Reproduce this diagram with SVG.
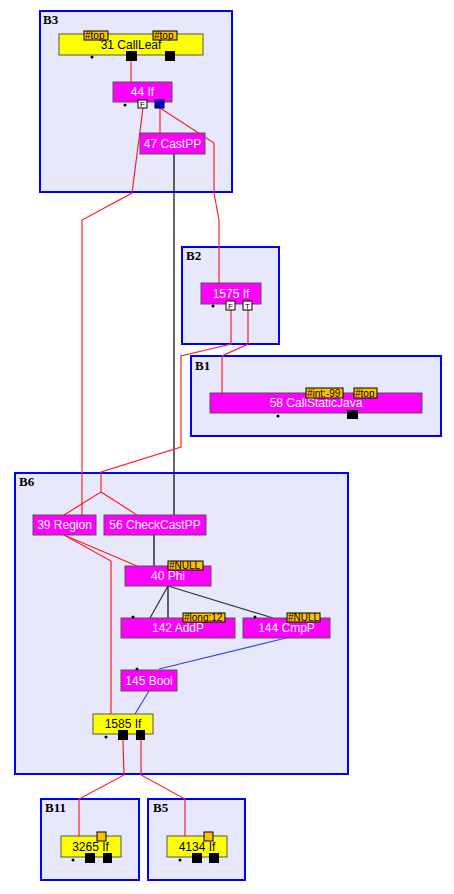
<svg xmlns="http://www.w3.org/2000/svg" width="454" height="894" viewBox="0 0 454 894">
<style>
.blk{fill:#E8E8FC;stroke:#0000FF;stroke-width:2}
.bl{font-family:"Liberation Serif",serif;font-weight:bold;font-size:13px;fill:#000}
.mg{fill:#FF00FF;stroke:#555;stroke-width:1}
.yl{fill:#FFFF00;stroke:#555;stroke-width:1}
.tw{font-family:"Liberation Sans",Arial,sans-serif;font-size:12px;fill:#fff;text-anchor:middle}
.tb{font-family:"Liberation Sans",Arial,sans-serif;font-size:12px;fill:#000;text-anchor:middle}
.tag{fill:#FFC000;stroke:#000;stroke-width:1}
.tt{font-family:"Liberation Sans",Arial,sans-serif;font-size:10px;fill:#000}
.sq{fill:#000}
.pb{fill:#fff;stroke:#000;stroke-width:1}
.pt{font-family:"Liberation Sans",Arial,sans-serif;font-size:8px;fill:#000;text-anchor:middle}
.r{fill:none;stroke:#FF2020;stroke-width:1.2}
.k{fill:none;stroke:#000;stroke-width:1.2}
.d{fill:none;stroke:#333;stroke-width:1.2}
.b{fill:none;stroke:#3344FF;stroke-width:1.2}
</style>
<g id="blocks">
<g id="B3"><rect class="blk" x="40" y="11" width="192" height="181"/><text class="bl" x="43" y="24">B3</text></g>
<g id="B2"><rect class="blk" x="182" y="247" width="97" height="97"/><text class="bl" x="186" y="260">B2</text></g>
<g id="B1"><rect class="blk" x="191" y="356" width="250" height="80"/><text class="bl" x="195" y="370">B1</text></g>
<g id="B6"><rect class="blk" x="15" y="473" width="333" height="301"/><text class="bl" x="19" y="486">B6</text></g>
<g id="B11"><rect class="blk" x="41" y="799" width="98" height="81"/><text class="bl" x="45" y="812">B11</text></g>
<g id="B5"><rect class="blk" x="148" y="799" width="97" height="81"/><text class="bl" x="153" y="812">B5</text></g>
</g>
<g id="connectors">
<polyline class="r" points="131,61 131,82"/>
<polyline class="r" points="160,108 160,133"/>
<polyline class="r" points="160,108 214,143 214,193 219,220 219,283"/>
<polyline class="r" points="143,108 132,193 82,220 82,515"/>
<polyline class="k" points="174,154 174,515"/>
<polyline class="r" points="231,310 231,344 181,356 181,447 101,472 101,492 64,515"/>
<polyline class="r" points="101,492 137,515"/>
<polyline class="r" points="248,310 248,344 222,356 222,393"/>
<polyline class="r" points="64,535 137,566"/>
<polyline class="r" points="64,535 111,561 111,714"/>
<polyline class="k" points="154,535 154,566"/>
<polyline class="d" points="168,586 150,618"/>
<polyline class="k" points="168,586 168,618"/>
<polyline class="d" points="168,586 273,618"/>
<polyline class="b" points="286,638 159,669"/>
<polyline class="b" points="149,691 135,714"/>
<polyline class="r" points="123,740 124,775 79,799 79,836"/>
<polyline class="r" points="141,740 141,775 185,799 185,836"/>
</g>
<g id="n31">
<rect class="yl" x="59" y="34" width="144" height="21"/>
<text class="tb" x="131" y="49">31 CallLeaf</text>
<rect class="tag" x="84" y="31" width="24" height="9"/><text class="tt" x="85" y="39">#top</text>
<rect class="tag" x="153" y="31" width="24" height="9"/><text class="tt" x="154" y="39">#top</text>
<rect class="sq" x="126" y="51" width="11" height="10"/>
<rect class="sq" x="165" y="51" width="10" height="10"/>
<circle cx="92" cy="57" r="1.5"/>
</g>
<g id="n44">
<rect class="mg" x="113" y="82" width="59" height="20"/>
<text class="tw" x="142.5" y="96">44 If</text>
<rect class="pb" x="138" y="100" width="9" height="8"/><text class="pt" x="142.5" y="107">F</text>
<rect x="155" y="100" width="9" height="8" fill="#0000FF" stroke="#000"/><text class="pt" x="159.5" y="107">T</text>
<circle cx="125" cy="105" r="1.5"/>
</g>
<g id="n47">
<rect class="mg" x="140" y="133" width="65" height="21"/>
<text class="tw" x="172.5" y="148">47 CastPP</text>
</g>
<g id="n1575">
<rect class="mg" x="201" y="283" width="60" height="21"/>
<text class="tw" x="231" y="298">1575 If</text>
<rect class="pb" x="226" y="301" width="9" height="9"/><text class="pt" x="230.5" y="308.5">F</text>
<rect class="pb" x="243" y="301" width="9" height="9"/><text class="pt" x="247.5" y="308.5">T</text>
<circle cx="213" cy="306" r="1.5"/>
</g>
<g id="n58">
<rect class="mg" x="210" y="393" width="212" height="20"/>
<text class="tw" x="316" y="407">58 CallStaticJava</text>
<rect class="tag" x="306" y="388" width="37" height="10"/><text class="tt" x="307" y="396.5">#int:-99</text>
<rect class="tag" x="354" y="388" width="23" height="10"/><text class="tt" x="355" y="396.5">#top</text>
<rect class="sq" x="347" y="410" width="11" height="9"/>
<circle cx="278" cy="416" r="1.5"/>
</g>
<g id="n39">
<rect class="mg" x="33" y="515" width="63" height="20"/>
<text class="tw" x="64.5" y="529">39 Region</text>
</g>
<g id="n56">
<rect class="mg" x="104" y="515" width="102" height="20"/>
<text class="tw" x="155" y="529">56 CheckCastPP</text>
</g>
<g id="n40">
<rect class="mg" x="125" y="566" width="86" height="20"/>
<text class="tw" x="168" y="580">40 Phi</text>
<rect class="tag" x="168" y="561" width="35" height="9"/><text class="tt" x="169" y="569">#NULL</text>
</g>
<g id="n142">
<rect class="mg" x="121" y="618" width="114" height="20"/>
<text class="tw" x="178" y="632">142 AddP</text>
<rect class="tag" x="183" y="613" width="42" height="9"/><text class="tt" x="184" y="621">#long:12</text>
<circle cx="133" cy="617" r="1.5"/>
</g>
<g id="n144">
<rect class="mg" x="243" y="618" width="87" height="20"/>
<text class="tw" x="286.5" y="632">144 CmpP</text>
<rect class="tag" x="287" y="613" width="33" height="9"/><text class="tt" x="288" y="621">#NULL</text>
<circle cx="255" cy="617" r="1.5"/>
</g>
<g id="n145">
<rect class="mg" x="121" y="670" width="56" height="21"/>
<text class="tw" x="149" y="685">145 Bool</text>
<circle cx="137" cy="669" r="1.5"/>
</g>
<g id="n1585">
<rect class="yl" x="93" y="714" width="60" height="20"/>
<text class="tb" x="123" y="728">1585 If</text>
<rect class="sq" x="118" y="730" width="10" height="10"/>
<rect class="sq" x="136" y="730" width="9" height="10"/>
<circle cx="106" cy="737" r="1.5"/>
</g>
<g id="n3265">
<rect class="yl" x="61" y="836" width="60" height="21"/>
<text class="tb" x="90.5" y="851">3265 If</text>
<rect class="tag" x="97" y="832" width="9" height="9"/>
<rect class="sq" x="85" y="853" width="10" height="10"/>
<rect class="sq" x="103" y="853" width="9" height="10"/>
<circle cx="73" cy="860" r="1.5"/>
</g>
<g id="n4134">
<rect class="yl" x="167" y="836" width="60" height="21"/>
<text class="tb" x="197" y="851">4134 If</text>
<rect class="tag" x="204" y="832" width="9" height="9"/>
<rect class="sq" x="192" y="853" width="10" height="10"/>
<rect class="sq" x="209" y="853" width="10" height="10"/>
<circle cx="180" cy="860" r="1.5"/>
</g>
</svg>
